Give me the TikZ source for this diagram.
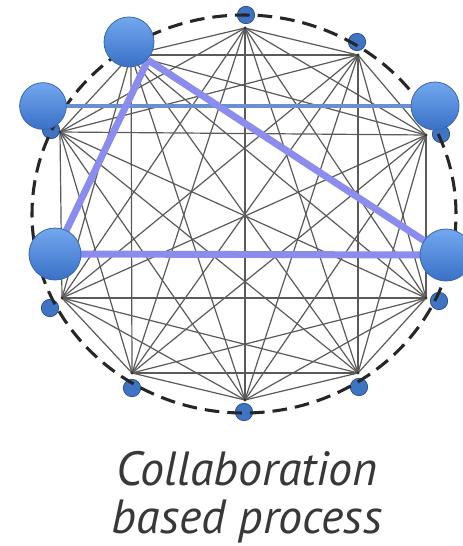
\documentclass[tikz,border=0pt]{standalone}
\usepackage{fontspec}
\newfontfamily\capfont{PT Sans}
\definecolor{edgegray}{HTML}{5A5A5A}
\definecolor{ballTop}{HTML}{72A8EE}
\definecolor{ballBot}{HTML}{3A70C6}
\definecolor{ballRim}{HTML}{3A66AE}
\definecolor{sBall}{HTML}{3F74C2}
\definecolor{sRim}{HTML}{2A5294}
\definecolor{lav}{HTML}{8A8CEE}
\definecolor{steel}{HTML}{6A8ED4}
\definecolor{txt}{HTML}{383838}
\pgfdeclarelayer{netlayer}
\pgfdeclarelayer{hilayer}
\pgfsetlayers{netlayer,hilayer,main}
\tikzset{
  edge/.style={draw=edgegray, line width=0.9pt},
  dashring/.style={draw=black!85, line width=2.3pt, dash pattern=on 11pt off 6pt},
  sball/.style={circle, inner sep=0pt, minimum size=13pt, fill=sBall, draw=sRim, line width=0.6pt},
  bball/.style={circle, inner sep=0pt, minimum size=#1, top color=ballTop, bottom color=ballBot, draw=ballRim, line width=0.6pt},
  lavline/.style={draw=lav, line width=5.2pt},
  steelline/.style={draw=steel, line width=2.8pt},
  captext/.style={font=\capfont\itshape\fontsize{36}{42}\selectfont, text=txt, anchor=base, inner sep=0pt}
}
\begin{document}
\begin{tikzpicture}[x=0.75pt,y=-0.75pt]
\useasboundingbox (0,0) rectangle (462,546);
\begin{pgfonlayer}{netlayer}
\fill[white] (0,0) rectangle (462,546);
% graph vertices
\coordinate (v1) at (245,28);
\coordinate (v2) at (358,55);
\coordinate (v3) at (426,135);
\coordinate (v4) at (426,298);
\coordinate (v5) at (358,373);
\coordinate (v6) at (245,400);
\coordinate (v7) at (132,373);
\coordinate (v8) at (62,298);
\coordinate (v9) at (60,132);
\coordinate (v10) at (131,55);
% small balls
\node[sball] (s1) at (246,15) {};
\node[sball] (s2) at (357,42) {};
\node[sball] (s3) at (441,134) {};
\node[sball] (s4) at (439,301) {};
\node[sball] (s5) at (359,387) {};
\node[sball] (s6) at (244,412) {};
\node[sball] (s7) at (132,388) {};
\node[sball] (s8) at (50,308) {};
\node[sball] (s9) at (51,130) {};
% dashed ring
\draw[dashring] (244,214) ellipse [x radius=159pt, y radius=149.25pt];
% complete graph
\foreach \i in {1,...,9}{
  \pgfmathtruncatemacro\nxt{\i+1}
  \foreach \j in {\nxt,...,10}{
    \draw[edge] (v\i) -- (v\j);
  }
}
\foreach \i in {1,...,10}{ \fill[black!80] (v\i) circle[radius=1.3pt]; }
\end{pgfonlayer}
% big balls
\node[bball=37.5pt] (B1) at (129,42) {};
\node[bball=35pt] (B2) at (43,106) {};
\node[bball=36pt] (B3) at (435,106) {};
\node[bball=39pt] (B4) at (55,254) {};
\node[bball=39pt] (B5) at (446,255) {};
\coordinate (apex) at (148,60);
\begin{pgfonlayer}{hilayer}
\draw[steelline] (B2.center) -- (B3.center);
\draw[lavline] (apex) -- (B4.center);
\draw[lavline] (apex) -- (B5.center);
\draw[lavline] (B4.center) -- (B5.center);
\end{pgfonlayer}
% caption
\node[captext] (cap1) at (247,485) {Collaboration};
\node[captext] (cap2) at (247,533) {based process};
\end{tikzpicture}
\end{document}
